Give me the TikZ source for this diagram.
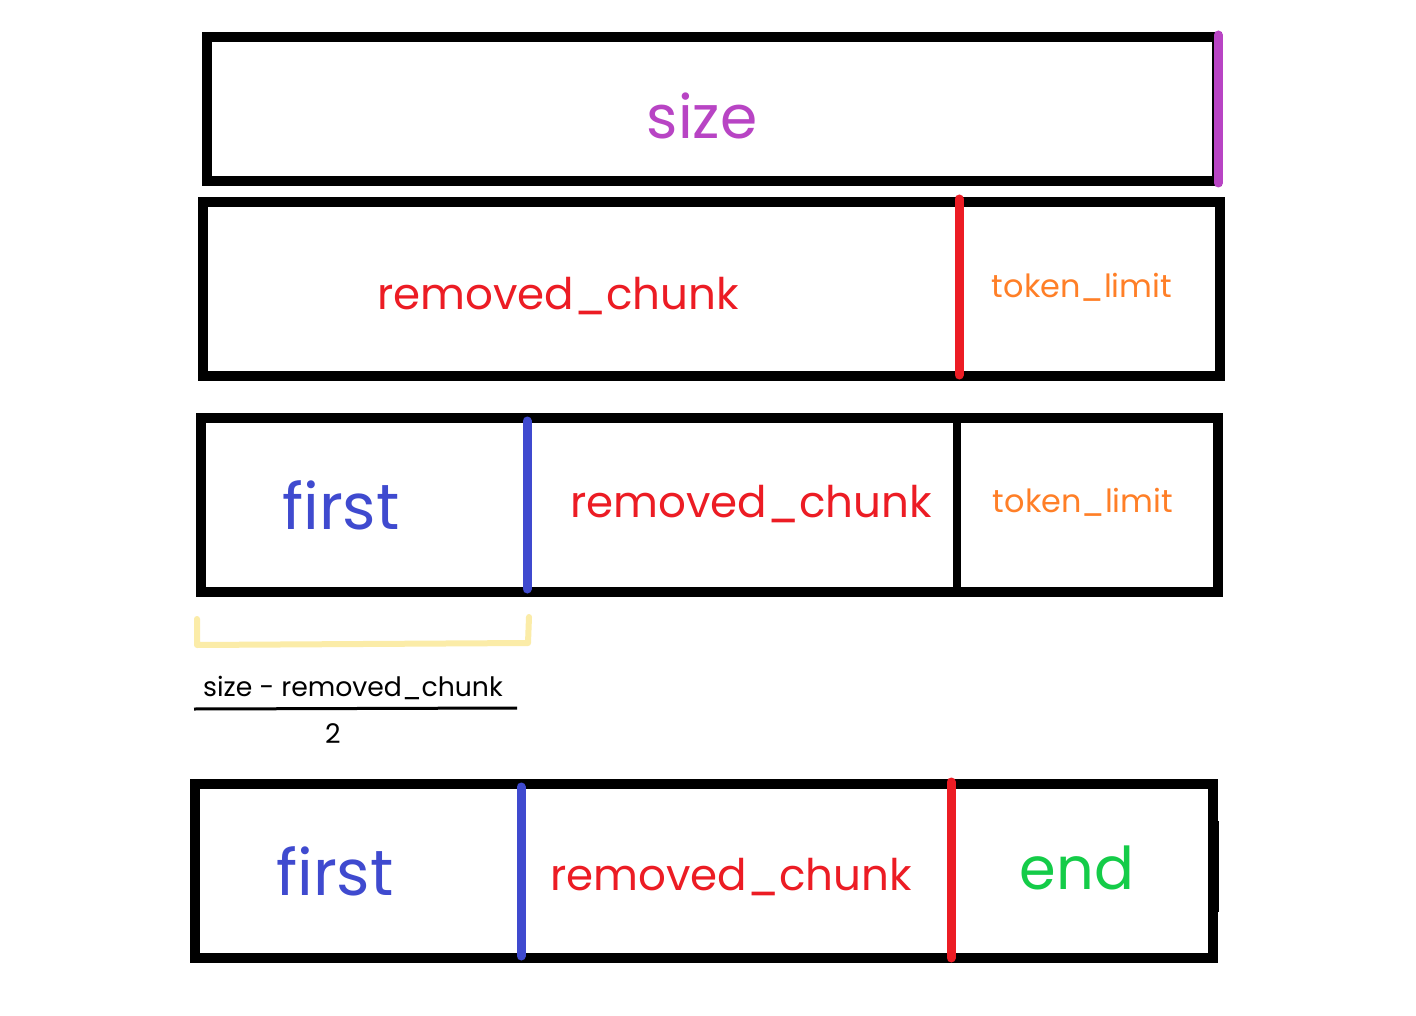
\documentclass[tikz,border=0pt]{standalone}
\usepackage{fontspec}
\setmainfont{Poppins}
\definecolor{cpurple}{HTML}{B844C4}
\definecolor{cred}{HTML}{EC1C24}
\definecolor{corange}{HTML}{FF7F27}
\definecolor{cblue}{HTML}{3F4ACF}
\definecolor{cgreen}{HTML}{14CC48}
\definecolor{cyellow}{HTML}{FBECA8}
\tikzset{
  box/.style={draw=black, line width=10pt},
  bar/.style={line width=9pt, line cap=round},
  lbl/.style={anchor=base, inner sep=0pt},
}
\newcommand{\fs}[1]{\fontsize{#1pt}{#1pt}\selectfont}
\begin{document}
\begin{tikzpicture}[x=1pt,y=-1pt]
\useasboundingbox (0,0) rectangle (1416,1016);
\fill[white] (0,0) rectangle (1416,1016);
% box 1
\draw[box] (207,37) rectangle (1217,181);
\coordinate (p1) at (1218,35); \coordinate (p2) at (1218,183);
\draw[bar, cpurple] (p1) -- (p2);
\node[lbl, text=cpurple] (size) at (702,139) {\fs{60}size};
% box 2
\draw[box] (203,202) rectangle (1220,376);
\coordinate (r1) at (959,199); \coordinate (r2) at (959,375);
\draw[bar, cred] (r1) -- (r2);
\node[lbl, text=cred] (rc1) at (558,309) {\fs{43.6}removed\_chunk};
\node[lbl, text=corange] (tl1) at (1082,298) {\fs{31.9}token\_limit};
% box 3
\draw[box] (201,418) rectangle (1218,592);
\draw[black, line width=8pt] (957,418) -- (957,592);
\coordinate (b1) at (527,421); \coordinate (b2) at (527,589);
\draw[bar, cblue] (b1) -- (b2);
\node[lbl, text=cblue] (f1) at (341,529) {\fs{64}first};
\node[lbl, text=cred] (rc2) at (751,517) {\fs{43.6}removed\_chunk};
\node[lbl, text=corange] (tl2) at (1083,512) {\fs{31.9}token\_limit};
% bracket
\coordinate (k1) at (197,619); \coordinate (k2) at (197,645);
\coordinate (k3) at (528,643); \coordinate (k4) at (529,617);
\draw[cyellow, line width=6pt, line cap=round, line join=round] (k1) -- (k2) -- (k3) -- (k4);
% fraction
\node[lbl] (num) at (353,696) {\fs{26.7}size - removed\_chunk};
\coordinate (fl1) at (194,709); \coordinate (fl2) at (517,708);
\draw[line width=3pt] (fl1) -- (fl2);
\node[lbl] (den) at (333,743) {\fs{27}2};
% box 4
\draw[box] (195,784) rectangle (1213,958);
\fill[black] (1213,821) rectangle (1219,912);
\coordinate (c1) at (521,787); \coordinate (c2) at (521,956);
\draw[bar, cblue] (c1) -- (c2);
\coordinate (d1) at (951,782); \coordinate (d2) at (951,958);
\draw[bar, cred] (d1) -- (d2);
\node[lbl, text=cblue] (f2) at (335,895) {\fs{64}first};
\node[lbl, text=cred] (rc3) at (731,890) {\fs{43.6}removed\_chunk};
\node[lbl, text=cgreen] (e) at (1077,889) {\fs{59}end};
\end{tikzpicture}
\end{document}
